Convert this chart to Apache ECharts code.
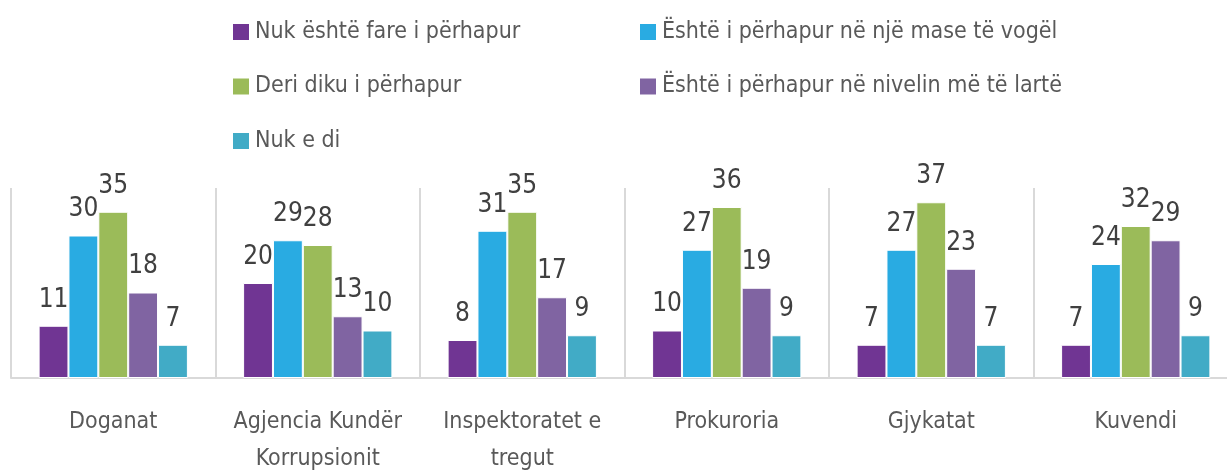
<!DOCTYPE html>
<html>
<head>
<meta charset="utf-8">
<script src="https://cdn.jsdelivr.net/npm/echarts@6/dist/echarts.min.js"></script>
<style>
  html, body { margin: 0; padding: 0; background: #fff; }
  #chart { width: 1227px; height: 470px; }
</style>
</head>
<body>
<div id="chart"></div>
<script>
const categories = [
  'Doganat',
  'Agjencia Kundër\nKorrupsionit',
  'Inspektoratet e\ntregut',
  'Prokuroria',
  'Gjykatat',
  'Kuvendi'
]
const seriesNames = [
  'Nuk është fare i përhapur',
  'Është i përhapur në një mase të vogël',
  'Deri diku i përhapur',
  'Është i përhapur në nivelin më të lartë',
  'Nuk e di'
]
const notAtAll = [11, 20, 8, 10, 7, 7]
const smallExtent = [30, 29, 31, 27, 27, 24]
const somewhat = [35, 28, 35, 36, 37, 32]
const highest = [18, 13, 17, 19, 23, 29]
const dontKnow = [7, 10, 9, 9, 7, 9]

const seriesValues = [notAtAll, smallExtent, somewhat, highest, dontKnow]
const colors = ['#703593', '#29abe2', '#9bbb59', '#8064a2', '#41abc6']

const FONT = "'DejaVu Sans Condensed', 'Liberation Sans Narrow', 'Liberation Sans', sans-serif"

const chart = echarts.init(document.getElementById('chart'), undefined, { renderer: 'canvas' })

const legendCommon = {
  orient: 'vertical',
  top: 12,
  itemWidth: 18,
  itemHeight: 18,
  itemGap: 24.5,
  icon: 'rect',
  textStyle: { color: '#595959', fontSize: 23, fontFamily: FONT, lineHeight: 30 }
}

chart.setOption({
  animation: false,
  color: colors,
  legend: [
    { ...legendCommon, left: 226, data: [seriesNames[0], seriesNames[2], seriesNames[4]] },
    { ...legendCommon, left: 633, data: [seriesNames[1], seriesNames[3]] }
  ],
  grid: { left: 11, top: 188, width: 1227, bottom: 92, outerBoundsMode: 'none', containLabel: false },
  xAxis: {
    type: 'category',
    data: categories,
    axisTick: { show: false },
    axisLine: { lineStyle: { color: '#d9d9d9', width: 2 } },
    splitLine: { show: true, interval: 0, lineStyle: { color: '#d9d9d9', width: 2 } },
    axisLabel: {
      interval: 0,
      margin: 26,
      color: '#595959',
      fontSize: 23,
      lineHeight: 37,
      fontFamily: FONT
    }
  },
  yAxis: {
    type: 'value',
    min: 0,
    max: 40,
    show: false
  },
  series: seriesValues.map((vals, i) => ({
    name: seriesNames[i],
    type: 'bar',
    data: vals,
    barGap: '0%',
    barCategoryGap: '27%',
    itemStyle: { color: colors[i], borderColor: '#ffffff', borderWidth: 1 },
    label: {
      show: true,
      position: 'top',
      distance: 13,
      color: '#404040',
      fontSize: 26,
      fontFamily: FONT
    }
  }))
})
</script>
</body>
</html>
